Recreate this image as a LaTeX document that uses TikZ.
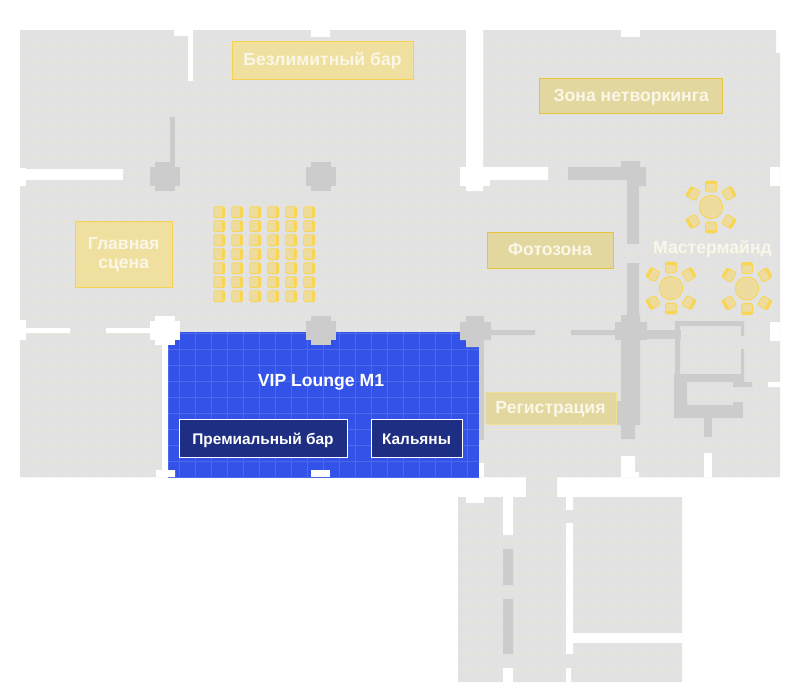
\documentclass[tikz,border=0pt]{standalone}
\usepackage{fontspec}
\setmainfont{Liberation Sans}
\usetikzlibrary{calc, math}
\definecolor{floorgray}{HTML}{E2E2E2}
\definecolor{wallgray}{HTML}{CCCCCC}
\definecolor{gridbeige}{HTML}{EAE5D3}
\definecolor{viproomblue}{HTML}{3353E8}
\definecolor{vipgrid}{HTML}{4C69EA}
\definecolor{vipdark}{HTML}{1E2E82}
\definecolor{zonefill}{HTML}{F2E094}
\definecolor{zonedark}{HTML}{E3D694}
\definecolor{zoneline}{HTML}{F6D24E}
\definecolor{zonedarkline}{HTML}{E5C440}
\definecolor{creamtext}{HTML}{FBF7E8}
\definecolor{chairfill}{HTML}{EEDC9F}
\definecolor{chairline}{HTML}{F8D552}

% один стул: спинка сверху
\newcommand{\chairseat}[3]{%
    \begin{scope}[shift={(#1, #2)}, rotate=#3]
        \fill [chairfill, rounded corners=1.5] (-5.4, -5.4) rectangle (5.4, 5.4);
        \fill [chairline, rounded corners=1] (-5.4, -5.4) rectangle (5.4, -2.6);
        \draw [chairline, line width=0.8pt, rounded corners=1.5] (-5.4, -5.4) rectangle (5.4, 5.4);
    \end{scope}
}
% стол и шесть стульев
\newcommand{\roundtable}[2]{%
    \chairseat{#1}{#2 - 20.5}{0}
    \chairseat{#1}{#2 + 20.5}{180}
    \chairseat{#1 - 18}{#2 - 13.5}{60}
    \chairseat{#1 + 18}{#2 - 13.5}{-60}
    \chairseat{#1 - 18}{#2 + 14.5}{120}
    \chairseat{#1 + 18}{#2 + 14.5}{-120}
    \draw [chairline, fill=chairfill, line width=0.8pt] (#1, #2) circle (11.7);
}
% колонна
\newcommand{\pillar}[3]{%
    \fill [#3] (#1 - 15, #2 - 9.5) rectangle (#1 + 15, #2 + 9.5);
    \fill [#3] (#1 - 10, #2 - 14.5) rectangle (#1 + 10, #2 + 14.5);
}

\begin{document}
\begin{tikzpicture}[x=1pt, y=-1pt,
    zonebox/.style={draw=zoneline, fill=zonefill, fill opacity=0.85, text opacity=1, line width=0.8pt, inner sep=0pt, text=creamtext, font=\bfseries\fontsize{17.6}{18.6}\selectfont, text height=10.6pt, text depth=0pt},
    zonedarkbox/.style={zonebox, draw=zonedarkline, fill=zonedark},
    vipbox/.style={draw=white, fill=vipdark, line width=0.8pt, inner sep=0pt, text=white, font=\bfseries\fontsize{15.4}{18}\selectfont, text height=11.4pt, text depth=0pt},
    plaintext/.style={inner sep=0pt, text=#1, font=\bfseries\fontsize{17.6}{18.6}\selectfont, text height=10.6pt, text depth=0pt},
]
    \useasboundingbox (0, 0) rectangle (800, 699);

    % пол
    \fill [floorgray] (20, 30) rectangle (776, 477) (776, 53) rectangle (780, 477) (526, 477) rectangle (557, 497) (458, 497) rectangle (682, 682);
    % сетка на полу
    \begin{scope}
        \clip (20, 30) rectangle (776, 477) (776, 53) rectangle (780, 477) (526, 477) rectangle (557, 497) (458, 497) rectangle (682, 682);
        \foreach \gx in {0, ..., 46} {
            \draw [gridbeige, line width=0.75pt] (35.7 + 16*\gx, 30) -- (35.7 + 16*\gx, 682);
        }
        \foreach \gy in {0, ..., 39} {
            \draw [gridbeige, line width=0.75pt] (20, 45.7 + 16*\gy) -- (780, 45.7 + 16*\gy);
        }
    \end{scope}

    % зал VIP
    \fill [viproomblue] (168, 332) rectangle (479, 477);
    \begin{scope}
        \clip (168, 332) rectangle (479, 477);
        \foreach \gx in {9, ..., 28} {
            \draw [vipgrid, line width=0.75pt] (35.7 + 16*\gx, 332) -- (35.7 + 16*\gx, 477);
        }
        \foreach \gy in {18, ..., 27} {
            \draw [vipgrid, line width=0.75pt] (168, 45.7 + 16*\gy) -- (479, 45.7 + 16*\gy);
        }
    \end{scope}

    % белые стены и проёмы
    \fill [white] (174, 30) rectangle (193, 36) (188, 36) rectangle (193, 81);
    \fill [white] (311, 30) rectangle (330, 37);
    \fill [white] (621, 30) rectangle (640, 37);
    \fill [white] (20, 168) rectangle (26, 186) (26, 169) rectangle (123, 180);
    \fill [white] (466, 30) rectangle (483, 191) (460, 167) rectangle (490, 186) (490, 167) rectangle (548, 180);
    \fill [white] (770, 167) rectangle (780, 186);
    \fill [white] (20, 320) rectangle (26, 340) (26, 328) rectangle (70, 333) (106, 328) rectangle (150, 333);
    \pillar{165}{330.5}{white}
    \fill [white] (162, 345) rectangle (168, 470) (156, 470) rectangle (175, 477);
    \fill [white] (311, 470) rectangle (330, 477);
    \fill [white] (479, 463) rectangle (484, 477);
    \fill [white] (770, 322) rectangle (780, 341) (768, 382) rectangle (780, 387);
    \fill [white] (621, 456) rectangle (635, 477) (635, 472) rectangle (639, 477);
    \fill [white] (704, 453) rectangle (712, 477);
    % белые стены внизу
    \fill [white] (466, 497) rectangle (484, 503);
    \fill [white] (503, 497) rectangle (513, 535) (503, 668) rectangle (513, 682);
    \fill [white] (566, 497) rectangle (573, 510) (566, 523) rectangle (573, 654) (566, 668) rectangle (571, 682);
    \fill [white] (566, 633) rectangle (682, 643);

    % серые стены и колонны
    \fill [wallgray] (170, 117) rectangle (175, 162);
    \pillar{165}{176.5}{wallgray}
    \pillar{321}{176.5}{wallgray}
    \pillar{321}{330.5}{wallgray}
    \fill [wallgray] (460, 322) rectangle (491, 340) (466, 316) rectangle (484, 347);
    \fill [wallgray] (479, 347) rectangle (484, 440);
    \fill [wallgray] (491, 330) rectangle (535, 335) (571, 330) rectangle (615, 335);
    % стена справа от фотозоны
    \fill [wallgray] (568, 167) rectangle (646, 180) (627, 180) rectangle (646, 186) (621, 161) rectangle (640, 167);
    \fill [wallgray] (627, 186) rectangle (639, 244) (627, 263) rectangle (639, 315);
    \fill [wallgray] (621, 315) rectangle (640, 425) (615, 322) rectangle (647, 340) (617, 401) rectangle (640, 425) (621, 425) rectangle (635, 439);
    \fill [wallgray] (647, 330) rectangle (681, 339);
    % комната справа
    \fill [wallgray] (675, 321) rectangle (744, 326) (675, 326) rectangle (680, 374);
    \fill [wallgray] (741, 326) rectangle (744, 336) (741, 349) rectangle (744, 382);
    \fill [wallgray] (674, 374) rectangle (744, 382) (733, 382) rectangle (752, 387);
    \fill [wallgray] (674, 382) rectangle (687, 418) (674, 405) rectangle (743, 418) (733, 402) rectangle (743, 405);
    \fill [wallgray] (704, 418) rectangle (712, 437);
    % серые стены внизу
    \fill [wallgray] (503, 549) rectangle (513, 585) (503, 599) rectangle (513, 654);

    % ряды стульев
    \foreach \col in {0, ..., 5} {
        \foreach \row in {0, ..., 6} {
            \chairseat{219.2 + 18*\col}{212.2 + 14*\row}{-90}
        }
    }
    % столы
    \roundtable{711}{207}
    \roundtable{671}{288}
    \roundtable{747}{288.5}

    % подписи зон
    \node [zonebox, minimum width=181, minimum height=38.5] (unlimitedbar) at (322.5, 60.5) {Безлимитный бар};
    \node [zonebox, text height={}, text depth={}, align=center, minimum width=96.5, minimum height=66] (mainstage) at (123.7, 254) {\rule{0pt}{14pt}Главная\\сцена};
    \node [zonedarkbox, minimum width=183, minimum height=35.5] (networking) at (631.3, 96) {Зона нетворкинга};
    \node [zonedarkbox, minimum width=126, minimum height=36] (photozone) at (550, 250) {Фотозона};
    \node [zonedarkbox, draw=zonefill, minimum width=131, minimum height=32] (registration) at (550.5, 408) {Регистрация};
    \node [plaintext=creamtext] (mastermind) at (712.5, 248) {Мастермайнд};
    \node [plaintext=white] (viplounge) at (321, 381.5) {VIP Lounge M1};
    \node [vipbox, minimum width=168, minimum height=38.5] (premiumbar) at (263, 438.5) {Премиальный бар};
    \node [vipbox, minimum width=91, minimum height=38.5] (hookah) at (416.5, 438.5) {Кальяны};
\end{tikzpicture}
\end{document}
